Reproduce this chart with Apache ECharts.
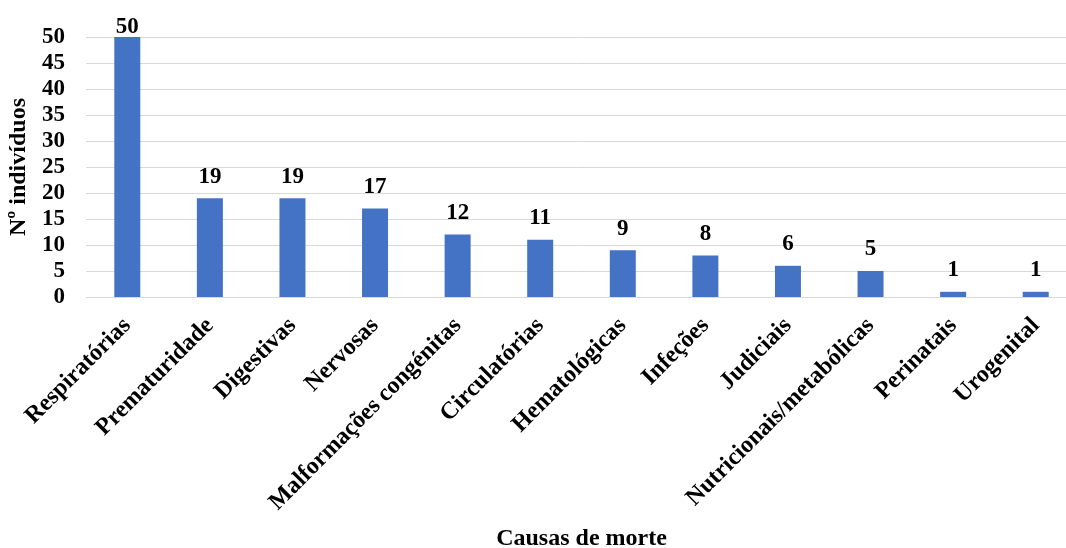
<!DOCTYPE html>
<html>
<head>
<meta charset="utf-8">
<script src="https://cdn.jsdelivr.net/npm/echarts@6/dist/echarts.min.js"></script>
<style>
  html, body { margin: 0; padding: 0; background: #fff; overflow: hidden; }
  #chart { width: 1066px; height: 548px; }
</style>
</head>
<body>
<div id="chart"></div>
<script>
// Causes of death and number of individuals
const categories = [
  'Respiratórias', 'Prematuridade', 'Digestivas', 'Nervosas',
  'Malformações congénitas', 'Circulatórias', 'Hematológicas', 'Infeções',
  'Judiciais', 'Nutricionais/metabólicas', 'Perinatais', 'Urogenital'
];
const counts = [50, 19, 19, 17, 12, 11, 9, 8, 6, 5, 1, 1];
const yTicks = { min: 0, max: 50, interval: 5 };

const FONT = '"Liberation Serif", "Times New Roman", serif';

const chart = echarts.init(document.getElementById('chart'), null, { renderer: 'canvas' });

// Labels sit just above each bar; the tallest one is tucked in close under the chart top.
const seriesData = counts.map(v => ({
  value: v,
  label: { distance: v >= yTicks.max ? -2 : 10 }
}));

chart.setOption({
  animation: false,
  backgroundColor: '#ffffff',
  // fixed plot box; it runs a little past the right edge of the canvas
  grid: {
    left: 86, width: 991, top: 37, bottom: 251,
    containLabel: false,
    outerBoundsMode: 'none'
  },
  xAxis: {
    type: 'category',
    data: categories,
    name: 'Causas de morte',
    nameLocation: 'middle',
    nameGap: 230,
    nameTextStyle: { fontFamily: FONT, fontWeight: 'bold', fontSize: 24, color: '#000' },
    axisLine: { show: true, lineStyle: { color: '#d9d9d9', width: 1 } },
    axisTick: { show: false },
    axisLabel: {
      interval: 0,
      rotate: 45,
      margin: 25,
      fontFamily: FONT,
      fontWeight: 'bold',
      fontSize: 24,
      color: '#000'
    }
  },
  yAxis: {
    type: 'value',
    min: yTicks.min,
    max: yTicks.max,
    interval: yTicks.interval,
    name: 'Nº indivíduos',
    nameLocation: 'middle',
    nameGap: 45,
    nameRotate: 90,
    nameTextStyle: { fontFamily: FONT, fontWeight: 'bold', fontSize: 24, color: '#000' },
    axisLine: { show: false },
    axisTick: { show: false },
    axisLabel: {
      margin: 21,
      fontFamily: FONT,
      fontWeight: 'bold',
      fontSize: 23,
      color: '#000'
    },
    splitLine: { show: true, lineStyle: { color: '#d9d9d9', width: 1 } }
  },
  series: [{
    type: 'bar',
    data: seriesData,
    barWidth: 26,
    itemStyle: { color: '#4472c4' },
    label: {
      show: true,
      position: 'top',
      fontFamily: FONT,
      fontWeight: 'bold',
      fontSize: 23,
      color: '#000'
    }
  }]
});
</script>
</body>
</html>
